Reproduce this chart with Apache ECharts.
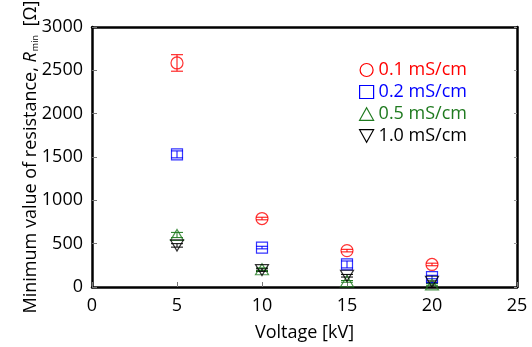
<!DOCTYPE html>
<html>
<head>
<meta charset="utf-8">
<script src="https://cdn.jsdelivr.net/npm/echarts@6/dist/echarts.min.js"></script>
<style>
  html, body { margin: 0; padding: 0; background: #fff; }
  #chart { width: 532px; height: 347px; }
</style>
</head>
<body>
<div id="chart"></div>
<script>
// Applied voltage [kV]
const voltage = [5, 10, 15, 20];

// Minimum resistance R_min [Ω] for each conductivity
const r01 = [2585, 790, 420, 260];
const r02 = [1530, 455, 260, 115];
const r05 = [600, 205, 65, 30];
const r10 = [480, 195, 130, 60];

// Error (± half-range) of each value [Ω]
const e01 = [95, 15, 15, 15];
const e02 = [40, 15, 40, 20];
const e05 = [30, 15, 10, 10];
const e10 = [20, 15, 15, 10];

const names = ['0.1 mS/cm', '0.2 mS/cm', '0.5 mS/cm', '1.0 mS/cm'];
const colors = ['#ff0000', '#0000ff', '#1f7a1f', '#000000'];
const symbols = [
  'circle',
  'rect',
  'path://M5,0 L10,9 L0,9 Z',
  'path://M0,0 L10,0 L5,9 Z'
];
const symbolSizes = [12, 11, [13, 11], [13, 11]];

const FONT = 'Open Sans';

function pairs(xs, ys) { return xs.map((x, i) => [x, ys[i]]); }
function triples(xs, ys, es) { return xs.map((x, i) => [x, ys[i], es[i]]); }

const values = [r01, r02, r05, r10];
const errors = [e01, e02, e05, e10];

const series = [];
values.forEach((vals, k) => {
  // error bars
  series.push({
    type: 'custom',
    name: names[k],
    data: triples(voltage, vals, errors[k]),
    z: 3,
    silent: true,
    renderItem: function (params, api) {
      const x = api.value(0), y = api.value(1), e = api.value(2);
      const hi = api.coord([x, y + e]);
      const lo = api.coord([x, y - e]);
      const hw = 6;
      const style = { stroke: colors[k], lineWidth: 1 };
      return {
        type: 'group',
        children: [
          { type: 'line', shape: { x1: hi[0], y1: hi[1], x2: lo[0], y2: lo[1] }, style: style },
          { type: 'line', shape: { x1: hi[0] - hw, y1: hi[1], x2: hi[0] + hw, y2: hi[1] }, style: style },
          { type: 'line', shape: { x1: lo[0] - hw, y1: lo[1], x2: lo[0] + hw, y2: lo[1] }, style: style }
        ]
      };
    }
  });
  // markers
  series.push({
    type: 'scatter',
    name: names[k],
    data: pairs(voltage, vals),
    symbol: symbols[k],
    symbolSize: symbolSizes[k],
    z: 4,
    itemStyle: { color: 'rgba(255,255,255,0)', borderColor: colors[k], borderWidth: 1.2 }
  });
});

const chart = echarts.init(document.getElementById('chart'), null, { renderer: 'canvas' });

const axisLine = { show: true, onZero: false, lineStyle: { color: '#000', width: 2.5 } };
const tickIn = { show: true, inside: true, length: 5, lineStyle: { color: '#777', width: 1 } };
const plain = v => String(v);

chart.setOption({
  animation: false,
  backgroundColor: '#fff',
  textStyle: { fontFamily: FONT },
  grid: { left: 92, right: 15, top: 27, bottom: 60, containLabel: false, outerBoundsMode: 'none' },
  legend: {
    orient: 'vertical',
    left: 354,
    top: 56,
    itemWidth: 14,
    itemHeight: 13,
    itemGap: 4,
    data: names.map((n, k) => ({
      name: n,
      icon: symbols[k],
      itemStyle: { color: 'rgba(255,255,255,0)', borderColor: colors[k], borderWidth: 1.2 },
      textStyle: { color: colors[k] }
    })),
    textStyle: { fontFamily: FONT, fontSize: 18 }
  },
  xAxis: [{
    type: 'value',
    min: 0, max: 25, interval: 5,
    position: 'bottom',
    axisLine: axisLine,
    axisTick: tickIn,
    splitLine: { show: false },
    axisLabel: { color: '#000', fontSize: 18, fontFamily: FONT, margin: 10, formatter: plain },
    name: 'Voltage [kV]',
    nameLocation: 'middle',
    nameGap: 37,
    nameMoveOverlap: false,
    nameTextStyle: { color: '#000', fontSize: 18, fontFamily: FONT }
  }, {
    type: 'value',
    min: 0, max: 25, interval: 5,
    position: 'top',
    axisLine: axisLine,
    axisTick: { show: false },
    axisLabel: { show: false },
    splitLine: { show: false }
  }],
  yAxis: [{
    type: 'value',
    min: 0, max: 3000, interval: 500,
    position: 'left',
    axisLine: axisLine,
    axisTick: tickIn,
    splitLine: { show: false },
    axisLabel: { color: '#000', fontSize: 18, fontFamily: FONT, margin: 9, formatter: plain },
    name: '{t|Minimum value of resistance, }{i|R}{s|min}{t| [Ω]}',
    nameLocation: 'middle',
    nameGap: 52,
    nameRotate: 90,
    nameMoveOverlap: false,
    nameTextStyle: {
      color: '#000',
      fontFamily: FONT,
      rich: {
        t: { fontSize: 18, fontFamily: FONT, color: '#000', verticalAlign: 'bottom', lineHeight: 22 },
        i: { fontSize: 18, fontFamily: FONT, fontStyle: 'italic', color: '#000', verticalAlign: 'bottom', lineHeight: 22 },
        s: { fontSize: 9, fontFamily: FONT, color: '#000', verticalAlign: 'bottom', lineHeight: 22, padding: [0, 4, 0, 1] }
      }
    }
  }, {
    type: 'value',
    min: 0, max: 3000, interval: 500,
    position: 'right',
    axisLine: axisLine,
    axisTick: { show: true, inside: true, length: 3, lineStyle: { color: '#999', width: 1 } },
    axisLabel: { show: false },
    splitLine: { show: false }
  }],
  series: series
});
</script>
</body>
</html>
